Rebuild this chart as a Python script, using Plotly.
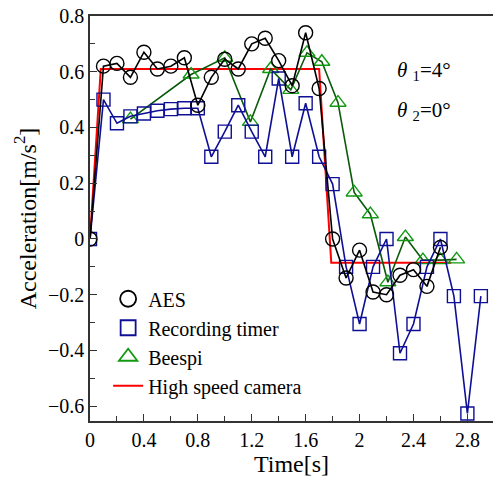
import plotly.graph_objects as go

# AES (circles)
aes_t = [0, 0.1, 0.2, 0.3, 0.4, 0.5, 0.6, 0.7, 0.8, 0.9, 1.0, 1.1, 1.2, 1.3, 1.4,
         1.5, 1.6, 1.7, 1.8, 1.9, 2.0, 2.1, 2.2, 2.3, 2.4, 2.5, 2.6]
aes_a = [0, 0.62, 0.63, 0.58, 0.67, 0.61, 0.62, 0.65, 0.48, 0.58, 0.645, 0.61, 0.70, 0.72, 0.64,
         0.55, 0.74, 0.54, 0.0, -0.14, -0.04, -0.19, -0.20, -0.13, -0.11, -0.17, -0.03]

# Recording timer (squares)
rec_t = [0, 0.1, 0.2, 0.3, 0.4, 0.5, 0.6, 0.7, 0.8, 0.9, 1.0, 1.1, 1.2, 1.3, 1.4,
         1.5, 1.6, 1.7, 1.8, 1.9, 2.0, 2.1, 2.2, 2.3, 2.4, 2.5, 2.6, 2.7, 2.8, 2.9]
rec_a = [0, 0.50, 0.415, 0.44, 0.45, 0.46, 0.466, 0.469, 0.469, 0.295, 0.385, 0.48, 0.385, 0.295, 0.576,
         0.295, 0.487, 0.295, 0.197, -0.10, -0.305, -0.10, 0.0, -0.41, -0.305, -0.10, 0.0, -0.205, -0.626, -0.205]

# Beespi (triangles)
bee_t = [0.3, 0.75, 1.0, 1.19, 1.34, 1.49, 1.61, 1.72, 1.84, 1.96, 2.08, 2.21, 2.34, 2.47, 2.6, 2.72]
bee_a = [0.43, 0.59, 0.65, 0.42, 0.61, 0.535, 0.668, 0.636, 0.489, 0.167, 0.089, -0.155, 0.007, -0.076, -0.076, -0.073]

# High speed camera (red line)
cam_t = [0, 0.08, 1.7, 1.79, 2.68]
cam_a = [0, 0.61, 0.61, -0.085, -0.085]

FONT = "Liberation Serif, Times New Roman, DejaVu Serif, serif"
NAVY = "#0f0f96"
GREEN_L = "#0a5a0a"
GREEN_M = "#119911"

fig = go.Figure()

fig.add_trace(go.Scatter(x=cam_t, y=cam_a, mode="lines", name="High speed camera",
                         line=dict(color="#ff0000", width=2), showlegend=False))
fig.add_trace(go.Scatter(x=bee_t, y=bee_a, mode="lines+markers", name="Beespi",
                         line=dict(color=GREEN_L, width=1.6),
                         marker=dict(symbol="triangle-up-open", size=14, color=GREEN_M,
                                     line=dict(width=1.4, color=GREEN_M)),
                         showlegend=False))
fig.add_trace(go.Scatter(x=rec_t, y=rec_a, mode="lines+markers", name="Recording timer",
                         line=dict(color=NAVY, width=1.6),
                         marker=dict(symbol="square-open", size=13, color=NAVY,
                                     line=dict(width=1.4, color=NAVY)),
                         showlegend=False))
fig.add_trace(go.Scatter(x=aes_t, y=aes_a, mode="lines+markers", name="AES",
                         line=dict(color="black", width=1.6),
                         marker=dict(symbol="circle-open", size=14, color="black",
                                     line=dict(width=1.4, color="black")),
                         showlegend=False))

# legend-only entries
fig.add_trace(go.Scatter(x=[None], y=[None], mode="markers", name="AES",
                         marker=dict(symbol="circle-open", size=16, color="black",
                                     line=dict(width=1.8, color="black"))))
fig.add_trace(go.Scatter(x=[None], y=[None], mode="markers", name="Recording timer",
                         marker=dict(symbol="square-open", size=15, color=NAVY,
                                     line=dict(width=1.8, color=NAVY))))
fig.add_trace(go.Scatter(x=[None], y=[None], mode="markers", name="Beespi",
                         marker=dict(symbol="triangle-up-open", size=16, color=GREEN_M,
                                     line=dict(width=1.8, color=GREEN_M))))
fig.add_trace(go.Scatter(x=[None], y=[None], mode="lines", name="High speed camera",
                         line=dict(color="#ff0000", width=2)))

fig.update_layout(
    width=493, height=477,
    margin=dict(l=90, r=0, t=16, b=56),
    paper_bgcolor="white", plot_bgcolor="white",
    font=dict(family=FONT, size=20, color="black"),
    legend=dict(x=0.045, y=0.35, xanchor="left", yanchor="top",
                bgcolor="rgba(0,0,0,0)", font=dict(size=20, family=FONT),
                tracegroupgap=0),
    annotations=[
        dict(x=0.758, y=0.902, xref="paper", yref="paper", xanchor="left",
             text="<i>θ</i> <sub>1</sub>=4°", showarrow=False, font=dict(size=21, family=FONT)),
        dict(x=0.758, y=0.803, xref="paper", yref="paper", xanchor="left",
             text="<i>θ</i> <sub>2</sub>=0°", showarrow=False, font=dict(size=21, family=FONT)),
    ],
)

fig.update_xaxes(range=[0, 2.99], tickmode="linear", tick0=0, dtick=0.4,
                 ticks="inside", ticklen=7, tickwidth=1.2, tickcolor="#333",
                 minor=dict(dtick=0.2, ticks="inside", ticklen=5, tickcolor="#333"),
                 showline=True, linecolor="#333", linewidth=1.5, mirror=True,
                 showgrid=False, zeroline=False,
                 title=dict(text="Time[s]", standoff=10), tickfont=dict(size=20))
fig.update_yaxes(range=[-0.653, 0.8], tickmode="linear", tick0=0, dtick=0.2,
                 ticks="inside", ticklen=7, tickwidth=1.2, tickcolor="#333",
                 minor=dict(dtick=0.1, ticks="inside", ticklen=5, tickcolor="#333"),
                 showline=True, linecolor="#333", linewidth=1.5,
                 showgrid=False, zeroline=False,
                 title=dict(text="Acceleration[m/s<sup>2</sup>]", standoff=5), tickfont=dict(size=20))

fig.write_html("out.html", config={"displayModeBar": False},
               post_script="document.body.style.margin='0';document.body.style.overflow='hidden';")
